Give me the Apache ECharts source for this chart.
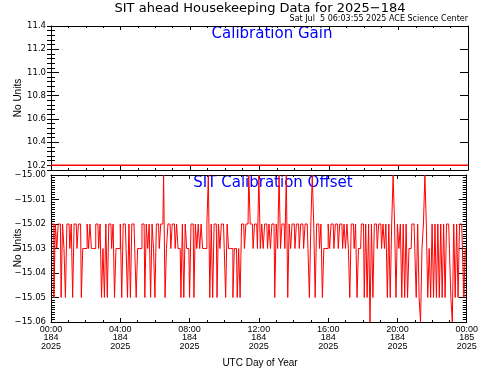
<!DOCTYPE html>
<html><head><meta charset="utf-8">
<script src="https://cdn.jsdelivr.net/npm/echarts@6/dist/echarts.min.js"></script>
<style>html,body{margin:0;padding:0;background:#fff}#c{width:481px;height:370px}</style>
</head><body><div id="c"></div>
<script>
const titleText = 'SIT ahead Housekeeping Data for 2025\u2212184';
const stampText = 'Sat Jul  5 06:03:55 2025 ACE Science Center';
const gainPanelLabel = 'Calibration Gain';
const offsetPanelLabel = 'SIT Calibration Offset';
const yAxisTitle = 'No Units';
const xAxisTitle = 'UTC Day of Year';

const xTickLabels = ['00:00\n184\n2025','04:00\n184\n2025','08:00\n184\n2025','12:00\n184\n2025','16:00\n184\n2025','20:00\n184\n2025','00:00\n185\n2025'];
const gainTicks = [10.2, 10.4, 10.6, 10.8, 11.0, 11.2, 11.4];
const offsetTicks = [-15.06, -15.05, -15.04, -15.03, -15.02, -15.01, -15.00];

// Calibration gain, hourly (constant line)
const gainHours = [0,1,2,3,4,5,6,7,8,9,10,11,12,13,14,15,16,17,18,19,20,21,22,23,24];
const gainValues = [10.2,10.2,10.2,10.2,10.2,10.2,10.2,10.2,10.2,10.2,10.2,10.2,10.2,10.2,10.2,10.2,10.2,10.2,10.2,10.2,10.2,10.2,10.2,10.2,10.2];

// SIT calibration offset, one value per 5-minute sample (12 per hour row)
const sampleMinutes = 5;
const offsetValues = [
 -15.02,-15.02,-15.05,-15.02,-15.03,-15.02,-15.02,-15.05,-15.02,-15.03,-15.05,-15.02,
 -15.02,-15.03,-15.02,-15.05,-15.02,-15.02,-15.03,-15.02,-15.02,-15.05,-15.03,-15.03,
 -15.03,-15.02,-15.03,-15.02,-15.03,-15.03,-15.03,-15.02,-15.02,-15.03,-15.02,-15.05,
 -15.03,-15.05,-15.02,-15.05,-15.02,-15.02,-15.03,-15.02,-15.05,-15.03,-15.03,-15.03,
 -15.02,-15.05,-15.02,-15.02,-15.03,-15.05,-15.02,-15.05,-15.02,-15.02,-15.03,-15.05,
 -15.03,-15.03,-15.03,-15.02,-15.02,-15.05,-15.02,-15.03,-15.02,-15.05,-15.02,-15.03,
 -15.05,-15.02,-15.02,-15.03,-15.02,-15.02,-15.00,-15.05,-15.03,-15.02,-15.02,-15.03,
 -15.02,-15.02,-15.03,-15.02,-15.03,-15.03,-15.05,-15.02,-15.05,-15.02,-15.03,-15.03,
 -15.05,-15.02,-15.02,-15.05,-15.02,-15.03,-15.02,-15.03,-15.02,-15.03,-15.03,-15.03,
 -15.02,-15.00,-15.05,-15.02,-15.05,-15.02,-15.02,-15.05,-15.02,-15.03,-15.02,-15.02,
 -15.03,-15.05,-15.02,-15.03,-15.03,-15.03,-15.05,-15.03,-15.03,-15.05,-15.03,-15.05,
 -15.02,-15.02,-15.03,-15.02,-15.02,-15.00,-15.02,-15.02,-15.03,-15.02,-15.02,-15.03,
 -15.00,-15.03,-15.02,-15.03,-15.02,-15.02,-15.03,-15.02,-15.03,-15.02,-15.02,-15.05,
 -15.02,-15.03,-15.00,-15.03,-15.02,-15.02,-15.03,-15.00,-15.05,-15.02,-15.03,-15.02,
 -15.02,-15.03,-15.02,-15.02,-15.03,-15.02,-15.02,-15.03,-15.02,-15.02,-15.03,-15.05,
 -15.02,-15.00,-15.02,-15.05,-15.02,-15.02,-15.03,-15.02,-15.05,-15.03,-15.03,-15.03,
 -15.02,-15.03,-15.02,-15.02,-15.03,-15.02,-15.02,-15.03,-15.02,-15.02,-15.03,-15.02,
 -15.03,-15.02,-15.03,-15.05,-15.02,-15.02,-15.03,-15.02,-15.05,-15.03,-15.03,-15.02,
 -15.02,-15.05,-15.02,-15.05,-15.02,-15.06,-15.02,-15.05,-15.02,-15.02,-15.03,-15.02,
 -15.02,-15.03,-15.02,-15.03,-15.02,-15.05,-15.02,-15.05,-15.02,-15.00,-15.02,-15.05,
 -15.02,-15.03,-15.02,-15.05,-15.02,-15.05,-15.02,-15.05,-15.03,-15.03,-15.02,-15.02,
 -15.03,-15.05,-15.02,-15.05,-15.06,-15.03,-15.02,-15.00,-15.02,-15.05,-15.03,-15.05,
 -15.02,-15.05,-15.02,-15.05,-15.02,-15.05,-15.02,-15.05,-15.02,-15.05,-15.02,-15.02,
 -15.03,-15.05,-15.06,-15.02,-15.05,-15.02,-15.05,-15.02,-15.02,-15.03,-15.05,-15.03
];

const FONT = 'Liberation Sans';
const WIDE = 'DejaVu Sans';
const BLACK = '#000000';
const RED = '#ff0000';
const BLUE = '#0000ff';

function fmtOffset(v) {
  return (v < 0 ? '\u2212' : '') + Math.abs(v).toFixed(2);
}

const grids = [
  { left: 51, top: 26, width: 417, height: 144 },
  { left: 51, top: 175, width: 417, height: 147 }
];

function xAx(gridIndex, position, showLabels) {
  return {
    type: 'value', gridIndex, position, min: 0, max: 24, interval: 4,
    axisLine: { show: true, onZero: false, lineStyle: { color: BLACK, width: 1 } },
    axisTick: { show: true, inside: true, length: 4, lineStyle: { color: BLACK } },
    minorTick: { show: true, splitNumber: 4, length: 2, lineStyle: { color: BLACK } },
    splitLine: { show: false },
    axisLabel: {
      show: showLabels, margin: 3, color: BLACK, fontFamily: FONT, fontSize: 9, lineHeight: 8.5,
      formatter: v => xTickLabels[Math.round(v / 4)]
    }
  };
}

function gainMajor(position, showLabels) {
  return {
    type: 'value', gridIndex: 0, position, min: 10.16, max: 11.4,
    axisLine: { show: true, onZero: false, lineStyle: { color: BLACK, width: 1 } },
    axisTick: { show: true, inside: true, length: 8, customValues: gainTicks, lineStyle: { color: BLACK } },
    splitLine: { show: false },
    axisLabel: {
      show: showLabels, customValues: gainTicks, margin: 5, color: BLACK, fontFamily: WIDE, fontSize: 8.5,
      formatter: v => v.toFixed(1)
    }
  };
}
function gainMinor(position) {
  return {
    type: 'value', gridIndex: 0, position, min: 10.16, max: 11.4, interval: 0.04,
    axisLine: { show: false },
    axisTick: { show: true, inside: true, length: 4, lineStyle: { color: BLACK } },
    splitLine: { show: false },
    axisLabel: { show: false }
  };
}
function offsetAx(position, showLabels) {
  return {
    type: 'value', gridIndex: 1, position, min: -15.06, max: -15.00, interval: 0.01,
    axisLine: { show: true, onZero: false, lineStyle: { color: BLACK, width: 1 } },
    axisTick: { show: true, inside: true, length: 8, lineStyle: { color: BLACK } },
    minorTick: { show: true, splitNumber: 10, length: 4, lineStyle: { color: BLACK } },
    splitLine: { show: false },
    axisLabel: { show: showLabels, margin: 5, color: BLACK, fontFamily: WIDE, fontSize: 8.5, formatter: fmtOffset }
  };
}

const gainData = gainHours.map((h, i) => [h, gainValues[i]]);
const offsetData = offsetValues.map((v, i) => [(i + 0.5) * sampleMinutes / 60, v]);

const option = {
  animation: false,
  backgroundColor: '#ffffff',
  grid: grids,
  xAxis: [xAx(0, 'bottom', false), xAx(0, 'top', false), xAx(1, 'bottom', true), xAx(1, 'top', false)],
  yAxis: [gainMajor('left', true), gainMinor('left'), gainMajor('right', false), gainMinor('right'),
          offsetAx('left', true), offsetAx('right', false)],
  series: [
    { type: 'line', xAxisIndex: 0, yAxisIndex: 0, data: gainData, showSymbol: false, symbol: 'none',
      lineStyle: { color: RED, width: 1.5 }, itemStyle: { color: RED } },
    { type: 'line', xAxisIndex: 2, yAxisIndex: 4, data: offsetData, showSymbol: false, symbol: 'none',
      step: 'middle', lineStyle: { color: RED, width: 1 }, itemStyle: { color: RED } }
  ],
  graphic: [
    { type: 'text', x: 260, y: 9, style: { text: titleText, fill: BLACK, fontFamily: WIDE, fontSize: 13, textAlign: 'center', textVerticalAlign: 'middle' } },
    { type: 'text', x: 468, y: 19, style: { text: stampText, fill: BLACK, fontFamily: WIDE, fontSize: 8, textAlign: 'right', textVerticalAlign: 'middle' } },
    { type: 'text', x: 272, y: 34, style: { text: gainPanelLabel, fill: BLUE, fontFamily: WIDE, fontSize: 15, textAlign: 'center', textVerticalAlign: 'middle' } },
    { type: 'text', x: 273, y: 183, style: { text: offsetPanelLabel, fill: BLUE, fontFamily: WIDE, fontSize: 15, textAlign: 'center', textVerticalAlign: 'middle' } },
    { type: 'text', x: 18, y: 98, rotation: Math.PI / 2, style: { text: yAxisTitle, fill: BLACK, fontFamily: FONT, fontSize: 10, textAlign: 'center', textVerticalAlign: 'middle' } },
    { type: 'text', x: 18, y: 248, rotation: Math.PI / 2, style: { text: yAxisTitle, fill: BLACK, fontFamily: FONT, fontSize: 10, textAlign: 'center', textVerticalAlign: 'middle' } },
    { type: 'text', x: 260, y: 363, style: { text: xAxisTitle, fill: BLACK, fontFamily: FONT, fontSize: 10, textAlign: 'center', textVerticalAlign: 'middle' } }
  ]
};

const chart = echarts.init(document.getElementById('c'), null, { renderer: 'canvas', width: 481, height: 370 });
chart.setOption(option);
</script>
</body></html>
